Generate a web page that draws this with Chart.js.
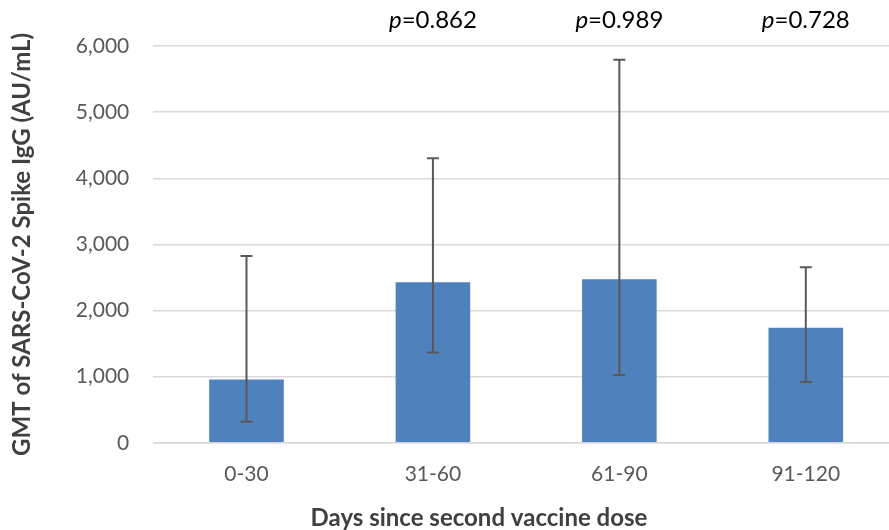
<!DOCTYPE html>
<html>
<head>
<meta charset="utf-8">
<script src="https://cdn.jsdelivr.net/npm/chart.js@4"></script>
<style>
    html, body { margin: 0; padding: 0; background: #fff; overflow: hidden; }
    #caja { position: relative; width: 900px; height: 530px; }
</style>
</head>
<body>
<div id="caja"><canvas id="grafica"></canvas></div>
<script>
// Datos
const CATEGORIAS = ['0-30', '31-60', '61-90', '91-120'];
const GMT = [958, 2428, 2473, 1740];
const ERROR_BAJO = [320, 1366, 1025, 920];
const ERROR_ALTO = [2825, 4303, 5792, 2655];
const VALORES_P = ['', '0.862', '0.989', '0.728'];
const TITULO_X = 'Days since second vaccine dose';

const COLORES = {
    barra: '#4f81bd',
    error: '#595959',
    rejilla: '#d9d9d9',
    texto: '#595959',
    titulo: '#404040'
};

const FUENTE = "Lato, 'Open Sans', sans-serif";

// Barras de error dibujadas con la escala y
const barrasError = {
    id: 'barrasError',
    afterDatasetsDraw(chart) {
        const ctx = chart.ctx;
        const meta = chart.getDatasetMeta(0);
        const y = chart.scales.y;
        ctx.save();
        ctx.strokeStyle = COLORES.error;
        ctx.lineWidth = 2;
        meta.data.forEach((barra, i) => {
            const x = barra.x;
            const yAlto = y.getPixelForValue(ERROR_ALTO[i]);
            const yBajo = y.getPixelForValue(ERROR_BAJO[i]);
            ctx.beginPath();
            ctx.moveTo(x, yAlto);
            ctx.lineTo(x, yBajo);
            ctx.moveTo(x - 6, yAlto);
            ctx.lineTo(x + 6, yAlto);
            ctx.moveTo(x - 6, yBajo);
            ctx.lineTo(x + 6, yBajo);
            ctx.stroke();
        });
        ctx.restore();
    }
};

// Etiquetas de p sobre las barras y título del eje x
const textos = {
    id: 'textos',
    afterDraw(chart) {
        const ctx = chart.ctx;
        const meta = chart.getDatasetMeta(0);
        ctx.save();
        ctx.fillStyle = '#000';
        ctx.textBaseline = 'middle';
        ctx.textAlign = 'left';
        meta.data.forEach((barra, i) => {
            if (!VALORES_P[i]) return;
            const fuenteP = 'italic 24px ' + FUENTE;
            const fuenteN = '24px ' + FUENTE;
            ctx.font = fuenteP;
            const anchoP = ctx.measureText('p').width;
            ctx.font = fuenteN;
            const resto = '=' + VALORES_P[i];
            const anchoR = ctx.measureText(resto).width;
            const x = barra.x - (anchoP + anchoR) / 2;
            ctx.font = fuenteP;
            ctx.fillText('p', x, 20);
            ctx.font = fuenteN;
            ctx.fillText(resto, x + anchoP, 20);
        });
        ctx.fillStyle = COLORES.titulo;
        ctx.font = 'bold 24px ' + FUENTE;
        ctx.textAlign = 'center';
        ctx.fillText(TITULO_X, 479, 518);
        ctx.restore();
    }
};

new Chart(document.getElementById('grafica'), {
    type: 'bar',
    data: {
        labels: CATEGORIAS,
        datasets: [{
            data: GMT,
            backgroundColor: COLORES.barra,
            borderWidth: 0,
            barPercentage: 0.4,
            categoryPercentage: 1
        }]
    },
    options: {
        responsive: true,
        maintainAspectRatio: false,
        animation: false,
        layout: { padding: { top: 46, right: 1, left: 0, bottom: 32 } },
        plugins: {
            legend: { display: false },
            tooltip: { enabled: false }
        },
        scales: {
            x: {
                grid: { display: false },
                border: { color: COLORES.rejilla, width: 1.5 },
                ticks: {
                    color: COLORES.texto,
                    font: { size: 21, family: FUENTE },
                    padding: 11
                }
            },
            y: {
                min: 0,
                max: 6000,
                grid: { color: COLORES.rejilla, lineWidth: 1.5, drawTicks: false },
                border: { display: false },
                ticks: {
                    stepSize: 1000,
                    color: COLORES.texto,
                    font: { size: 21, family: FUENTE },
                    padding: 24,
                    callback: v => v.toLocaleString('en-US')
                },
                title: {
                    display: true,
                    text: 'GMT of SARS-CoV-2 Spike IgG (AU/mL)',
                    color: COLORES.titulo,
                    font: { size: 24, weight: 'bold', family: FUENTE },
                    padding: { top: 8, bottom: 15 }
                }
            }
        }
    },
    plugins: [barrasError, textos]
});
</script>
</body>
</html>
